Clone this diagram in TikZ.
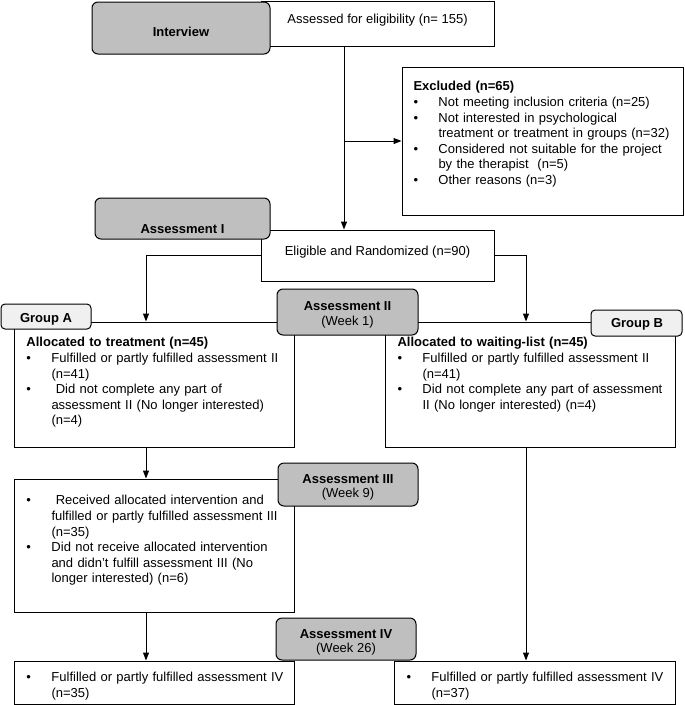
\documentclass[tikz,border=0pt]{standalone}
\usepackage{fontspec}
\setmainfont{Liberation Sans}
\usetikzlibrary{arrows.meta}

\newcommand{\bitem}[1]{\hangindent=25pt\hangafter=1\noindent\makebox[25pt][l]{\textbullet}#1\par}

\tikzset{
    box/.style = {draw, fill = white, inner sep = 0pt},
    grayblock/.style = {draw, fill = gray!50, rounded corners = 6pt, inner sep = 0pt},
    groupblock/.style = {draw, fill = black!6, rounded corners = 4pt, inner sep = 0pt},
    txt/.style = {anchor = north west, align = left, text width = 268pt, inner sep = 0pt},
    twolines/.style = {align = center, inner sep = 0pt, font = \fontsize{13}{14.5}\selectfont},
}

\begin{document}
\begin{tikzpicture}[x = 1pt, y = -1pt, >={Triangle[length = 8pt, width = 6pt]}, line width = 1pt,
    every node/.append style = {font = \fontsize{13}{15.6}\selectfont}]
    \useasboundingbox (0, 0) rectangle (685, 705);

    % boxes
    \node (assessed) [box, minimum width = 233pt, minimum height = 45pt] at (377.5, 23.5) {};
    \node (excluded) [box, minimum width = 281pt, minimum height = 148pt] at (542.5, 141) {};
    \node (eligible) [box, minimum width = 233pt, minimum height = 51pt] at (377.5, 255.5) {};
    \node (allocA) [box, minimum width = 280pt, minimum height = 125pt] at (154, 384.5) {};
    \node (allocB) [box, minimum width = 290pt, minimum height = 125pt] at (530, 384.5) {};
    \node (recA) [box, minimum width = 280pt, minimum height = 133pt] at (154, 545.5) {};
    \node (finA) [box, minimum width = 280pt, minimum height = 43pt] at (154, 682.5) {};
    \node (finB) [box, minimum width = 281pt, minimum height = 43pt] at (534.5, 682.5) {};

    % texts
    \node (assessedtxt) at (377.5, 20) {Assessed for eligibility (n= 155)};
    \node (eligibletxt) at (377.5, 252) {Eligible and Randomized (n=90)};
    \node (excludedtxt) [txt] at (413, 81) {\textbf{Excluded (n=65)}\par
        \bitem{Not meeting inclusion criteria (n=25)}
        \bitem{Not interested in psychological\newline treatment or treatment in groups (n=32)}
        \bitem{Considered not suitable for the project\newline by the therapist\ \ (n=5)}
        \bitem{Other reasons (n=3)}};
    \node (allocAtxt) [txt] at (26, 337) {\textbf{Allocated to treatment (n=45)}\par
        \bitem{Fulfilled or partly fulfilled assessment II\newline (n=41)}
        \bitem{\ Did not complete any part of\newline assessment II (No longer interested)\newline (n=4)}};
    \node (allocBtxt) [txt] at (397, 337) {\textbf{Allocated to waiting-list (n=45)}\par
        \bitem{Fulfilled or partly fulfilled assessment II\newline (n=41)}
        \bitem{Did not complete any part of assessment\newline II (No longer interested) (n=4)}};
    \node (recAtxt) [txt] at (26, 495) {\bitem{\ Received allocated intervention and\newline fulfilled or partly fulfilled assessment III\newline (n=35)}
        \bitem{Did not receive allocated intervention\newline and didn't fulfill assessment III (No\newline longer interested) (n=6)}};
    \node (finAtxt) [txt] at (26, 672) {\bitem{Fulfilled or partly fulfilled assessment IV\newline (n=35)}};
    \node (finBtxt) [txt] at (406, 672) {\bitem{Fulfilled or partly fulfilled assessment IV\newline (n=37)}};

    % arrows
    \coordinate (split) at (344, 141);
    \draw [->] (assessed.south -| split)  --  (eligible.north -| split);
    \draw [->] (split)  --  (excluded.west);
    \draw [->] (eligible.west)  -|  ([xshift = -8pt]allocA.north);
    \draw [->] (eligible.east)  -|  ([xshift = -4pt]allocB.north);
    \draw [->] ([xshift = -8pt]allocA.south)  --  ([xshift = -8pt]recA.north);
    \draw [->] ([xshift = -8pt]recA.south)  --  ([xshift = -8pt]finA.north);
    \draw [->] ([xshift = -4pt]allocB.south)  --  ([xshift = -4pt]allocB.south |- finB.north);

    % assessments and groups
    \node (interview) [grayblock, minimum width = 178pt, minimum height = 52pt] at (181, 28) {};
    \node (interviewtxt) at (181, 32) {\bfseries Interview};
    \node (assessI) [grayblock, minimum width = 175pt, minimum height = 41pt] at (182.5, 218.5) {};
    \node (assessItxt) at (182.5, 229) {\bfseries Assessment I};
    \node (assessII) [grayblock, minimum width = 141pt, minimum height = 46pt] at (347.5, 312) {};
    \node (assessIItxt) [twolines] at (347.5, 315) {\bfseries Assessment II\\(Week 1)};
    \node (assessIII) [grayblock, minimum width = 140pt, minimum height = 43pt] at (348, 484.5) {};
    \node (assessIIItxt) [twolines] at (348, 487.5) {\bfseries Assessment III\\(Week 9)};
    \node (assessIV) [grayblock, minimum width = 140pt, minimum height = 42pt] at (346, 639) {};
    \node (assessIVtxt) [twolines] at (346, 642.5) {\bfseries Assessment IV\\(Week 26)};
    \node (groupA) [groupblock, minimum width = 90pt, minimum height = 25pt] at (46, 316.5) {};
    \node (groupAtxt) at (46, 319) {\bfseries Group A};
    \node (groupB) [groupblock, minimum width = 91pt, minimum height = 26pt] at (636.5, 323) {};
    \node (groupBtxt) at (637, 324) {\bfseries Group B};
\end{tikzpicture}
\end{document}
